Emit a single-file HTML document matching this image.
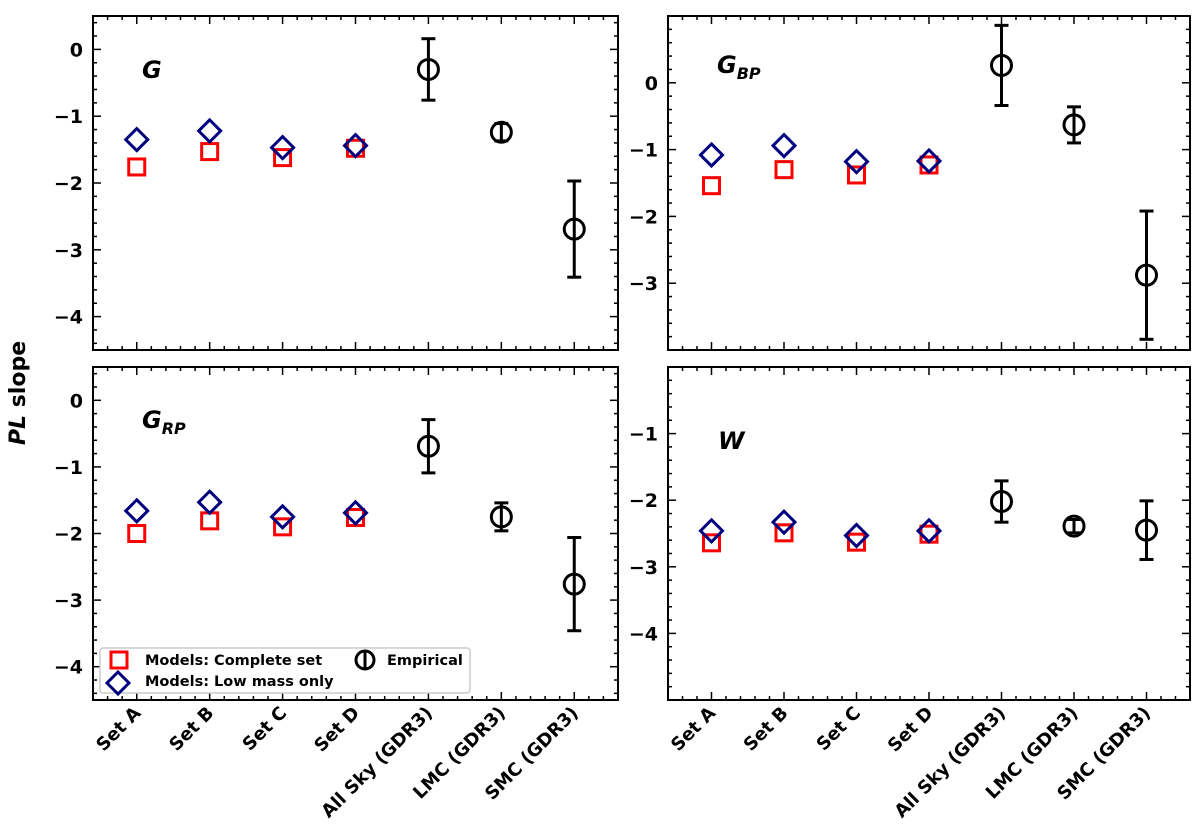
<!DOCTYPE html>
<html><head><meta charset="utf-8"><style>
body{margin:0;background:#fff}
svg text{font-family:"DejaVu Sans","Liberation Sans",sans-serif;font-weight:bold}
</style></head><body>
<svg id="c" width="1200" height="834" xmlns="http://www.w3.org/2000/svg"></svg>
<script>
const categories=["Set A","Set B","Set C","Set D","All Sky (GDR3)","LMC (GDR3)","SMC (GDR3)"];
const gSquares=[-1.76,-1.53,-1.62,-1.48];
const gDiamonds=[-1.35,-1.22,-1.47,-1.44];
const gEmp=[-0.30,-1.24,-2.69];
const gErr=[0.46,0.13,0.72];
const bpSquares=[-1.54,-1.30,-1.38,-1.23];
const bpDiamonds=[-1.08,-0.94,-1.18,-1.17];
const bpEmp=[0.26,-0.63,-2.88];
const bpErr=[0.60,0.27,0.96];
const rpSquares=[-2.00,-1.81,-1.90,-1.76];
const rpDiamonds=[-1.66,-1.53,-1.75,-1.69];
const rpEmp=[-0.69,-1.75,-2.76];
const rpErr=[0.40,0.21,0.70];
const wSquares=[-2.64,-2.49,-2.63,-2.51];
const wDiamonds=[-2.46,-2.33,-2.53,-2.46];
const wEmp=[-2.02,-2.39,-2.45];
const wErr=[0.31,0.10,0.44];
const gTicks=[0,-1,-2,-3,-4];
const bpTicks=[0,-1,-2,-3];
const rpTicks=[0,-1,-2,-3,-4];
const wTicks=[-1,-2,-3,-4];

const NS="http://www.w3.org/2000/svg";
const svg=document.getElementById('c');
function mk(tag,attrs,parent){const e=document.createElementNS(NS,tag);for(const k in attrs)e.setAttribute(k,attrs[k]);(parent||svg).appendChild(e);return e;}

function panel(name,L,T,R,B,ymin,ymax,ticks,sq,di,emp,err,showX){
  const g=mk('g',{});
  
  
  const xs=v=>L+(v+0.6)/7.2*(R-L);
  const ys=v=>T+(ymax-v)/(ymax-ymin)*(B-T);
  const frame=mk('rect',{x:L,y:T,width:R-L,height:B-T,fill:'none',stroke:'#000','stroke-width':2},g);
  
  
  for(let v=Math.ceil(ymin*5)/5; v<=ymax+1e-9; v+=0.2){
    const vv=Math.round(v*10)/10; const y=ys(vv);
    const major=Math.abs(vv-Math.round(vv))<1e-6;
    const len=major?8:4;
    mk('line',{x1:L,y1:y,x2:L+len,y2:y,stroke:'#000','stroke-width':1.5},g);
    mk('line',{x1:R,y1:y,x2:R-len,y2:y,stroke:'#000','stroke-width':1.5},g);
  }
  ticks.forEach(t=>{
    const tx=mk('text',{x:L-10,y:ys(t)+7,'text-anchor':'end','font-size':19},g);
    tx.textContent=(t<0?'\u2212'+Math.abs(t):String(t));
    
    
  });
  for(let i=-2;i<=32;i++){
    const v=i*0.2; if(v<-0.6||v>6.6) continue;
    const x=xs(v); const major=i%5===0; const len=major?8:4;
    mk('line',{x1:x,y1:B,x2:x,y2:B-len,stroke:'#000','stroke-width':1.5},g);
    mk('line',{x1:x,y1:T,x2:x,y2:T+len,stroke:'#000','stroke-width':1.5},g);
  }
  if(showX){
    categories.forEach((c,i)=>{
      const x=xs(i)+5,y=B+14;
      const tx=mk('text',{x:x,y:y,'text-anchor':'end','font-size':18,transform:`rotate(-45 ${x} ${y})`},g);
      tx.textContent=c;
      
      
    });
  }
  sq.forEach((v,i)=>{
    const r=mk('rect',{x:xs(i)-8,y:ys(v)-8,width:16,height:16,fill:'none',stroke:'#ff0000','stroke-width':3},g);
    
    
  });
  di.forEach((v,i)=>{
    const x=xs(i),y=ys(v);
    const p=mk('polygon',{points:`${x},${y-11} ${x+11},${y} ${x},${y+11} ${x-11},${y}`,fill:'none',stroke:'#00007f','stroke-width':3},g);
    
    
  });
  emp.forEach((v,i)=>{
    const x=xs(i+4),y=ys(v),y1=ys(v+err[i]),y2=ys(v-err[i]);
    const eg=mk('g',{},g);
    
    
    mk('line',{x1:x,y1:y1,x2:x,y2:y2,stroke:'#000','stroke-width':3},eg);
    mk('line',{x1:x-7,y1:y1,x2:x+7,y2:y1,stroke:'#000','stroke-width':3},eg);
    mk('line',{x1:x-7,y1:y2,x2:x+7,y2:y2,stroke:'#000','stroke-width':3},eg);
    mk('circle',{cx:x,cy:y,r:10,fill:'none',stroke:'#000','stroke-width':3},eg);
  });
  return g;
}
panel('g',93,16,618,350,-4.5,0.5,gTicks,gSquares,gDiamonds,gEmp,gErr,false);
panel('gbp',668,16,1190,350,-4.0,1.0,bpTicks,bpSquares,bpDiamonds,bpEmp,bpErr,false);
panel('grp',93,367,618,700,-4.5,0.5,rpTicks,rpSquares,rpDiamonds,rpEmp,rpErr,true);
panel('w',668,367,1190,700,-5.0,0.0,wTicks,wSquares,wDiamonds,wEmp,wErr,true);
</script>
<svg width="1200" height="834" style="position:absolute;left:0;top:0" xmlns="http://www.w3.org/2000/svg">
<text x="142" y="78" font-size="24" font-style="italic">G</text>
<text x="717" y="73" font-size="24" font-style="italic">G<tspan font-size="16" dy="6">BP</tspan></text>
<text x="142" y="428" font-size="24" font-style="italic">G<tspan font-size="16" dy="6">RP</tspan></text>
<text x="718" y="449" font-size="24" font-style="italic">W</text>
<text x="25" y="393" font-size="22" transform="rotate(-90 25 393)" text-anchor="middle"><tspan font-style="italic">PL</tspan> slope</text>
<g>
<rect x="100" y="648" width="370" height="45" rx="3" fill="#fff" fill-opacity="0.85" stroke="#ccc" stroke-width="1.5"/>
<rect x="111" y="652" width="16" height="16" fill="none" stroke="#ff0000" stroke-width="3"/>
<polygon points="118,672 129,683 118,694 107,683" fill="none" stroke="#00007f" stroke-width="3"/>
<text x="145" y="665" font-size="14.5">Models: Complete set</text>
<text x="145" y="686" font-size="14.5">Models: Low mass only</text>
<circle cx="365" cy="660" r="9" fill="none" stroke="#000" stroke-width="3"/>
<line x1="365" y1="651" x2="365" y2="669" stroke="#000" stroke-width="3"/>
<text x="387" y="665" font-size="14.5">Empirical</text>
</g>
</svg>
</body></html>
